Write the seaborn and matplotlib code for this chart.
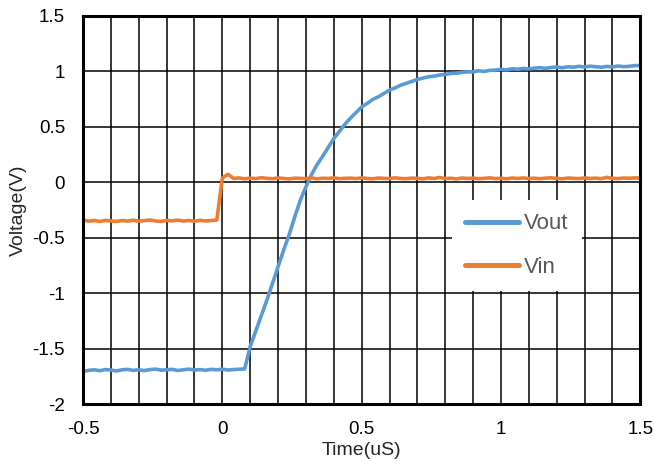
import numpy as np
import pandas as pd
import matplotlib
matplotlib.use("Agg")
import matplotlib.pyplot as plt
from matplotlib.ticker import MultipleLocator
import seaborn as sns

# ==========================================
# data (read off the scope capture, 0.02 uS step)
# ==========================================
time_us = np.round(np.arange(-0.5, 1.5001, 0.02), 2)

vout = [
    -1.705, -1.695, -1.690, -1.698, -1.688, -1.692, -1.700, -1.690, -1.686, -1.695,   # -0.50 .. -0.32
    -1.690, -1.697, -1.688, -1.684, -1.693, -1.690, -1.686, -1.696, -1.690, -1.684,   # -0.30 .. -0.12
    -1.692, -1.688, -1.694, -1.686, -1.690, -1.684, -1.692, -1.688, -1.685,           # -0.10 .. 0.06
    -1.682, -1.480, -1.340, -1.200, -1.060, -0.910, -0.760, -0.610, -0.470, -0.310,   # 0.08 .. 0.26
    -0.160, -0.040, 0.070, 0.160, 0.235, 0.315, 0.395, 0.460, 0.525, 0.580,           # 0.28 .. 0.46
    0.630, 0.680, 0.712, 0.748, 0.772, 0.802, 0.832, 0.852, 0.876, 0.893,             # 0.48 .. 0.66
    0.910, 0.928, 0.940, 0.952, 0.958, 0.968, 0.973, 0.982, 0.984, 0.992,             # 0.68 .. 0.86
    0.996, 0.996, 1.006, 1.000, 1.010, 1.012, 1.018, 1.014, 1.024, 1.020,             # 0.88 .. 1.06
    1.027, 1.022, 1.030, 1.034, 1.028, 1.036, 1.040, 1.033, 1.042, 1.038,             # 1.08 .. 1.26
    1.046, 1.040, 1.048, 1.042, 1.038, 1.045, 1.040, 1.049, 1.043, 1.046,             # 1.28 .. 1.46
    1.052, 1.054,                                                                     # 1.48 .. 1.50
]

vin = [
    -0.340, -0.350, -0.344, -0.352, -0.343, -0.348, -0.352, -0.344, -0.349, -0.341,   # -0.50 .. -0.32
    -0.350, -0.345, -0.340, -0.348, -0.352, -0.343, -0.347, -0.340, -0.349, -0.344,   # -0.30 .. -0.12
    -0.350, -0.342, -0.348, -0.344, -0.340, 0.040, 0.072, 0.036, 0.040, 0.032,       # -0.10 .. 0.08
    0.038, 0.034, 0.042, 0.036, 0.033, 0.040, 0.035, 0.031, 0.038, 0.036,             # 0.10 .. 0.28
    0.034, 0.040, 0.032, 0.037, 0.035, 0.041, 0.033, 0.036, 0.038, 0.034,             # 0.30 .. 0.48
    0.040, 0.035, 0.032, 0.039, 0.036, 0.034, 0.041, 0.035, 0.033, 0.038,             # 0.50 .. 0.68
    0.036, 0.032, 0.040, 0.035, 0.044, 0.034, 0.037, 0.031, 0.039, 0.035,             # 0.70 .. 0.88
    0.038, 0.033, 0.036, 0.041, 0.034, 0.037, 0.032, 0.039, 0.035, 0.040,             # 0.90 .. 1.08
    0.034, 0.037, 0.033, 0.038, 0.041, 0.035, 0.032, 0.039, 0.036, 0.034,             # 1.10 .. 1.28
    0.040, 0.035, 0.038, 0.033, 0.045, 0.036, 0.034, 0.039, 0.037, 0.040,             # 1.30 .. 1.48
    0.038,                                                                            # 1.50
]

series_names = ["Vout", "Vin"]
series_colors = ["#5B9BD5", "#ED7D31"]

# ==========================================
# plot
# ==========================================
sns.set_style("white")
plt.rcParams['font.family'] = ['Liberation Sans', 'DejaVu Sans']

df = pd.concat([
    pd.DataFrame({"time": time_us, "volt": vout, "sig": "Vout"}),
    pd.DataFrame({"time": time_us, "volt": vin, "sig": "Vin"}),
])

fig = plt.figure(figsize=(6.54, 4.70), dpi=100)
ax = fig.add_axes([0.127, 0.140, 0.852, 0.826])

sns.lineplot(data=df, x="time", y="volt", hue="sig", hue_order=series_names,
             palette=series_colors, linewidth=2.6, ax=ax, estimator=None,
             sort=False, legend=True)

ax.set_xlim(-0.5, 1.5)
ax.set_ylim(-2, 1.5)
ax.xaxis.set_major_locator(MultipleLocator(0.5))
ax.xaxis.set_minor_locator(MultipleLocator(0.1))
ax.yaxis.set_major_locator(MultipleLocator(0.5))
ax.xaxis.set_major_formatter(plt.FuncFormatter(lambda v, p: f"{v:g}"))
ax.yaxis.set_major_formatter(plt.FuncFormatter(lambda v, p: f"{v:g}"))

ax.grid(which="major", color="black", linewidth=1.1)
ax.grid(which="minor", axis="x", color="black", linewidth=1.1)
ax.set_axisbelow(True)
for s in ax.spines.values():
    s.set_color("black")
    s.set_linewidth(2.2)

ax.tick_params(axis="both", which="both", length=0, labelsize=13.5, colors="black")
ax.tick_params(axis="y", pad=13)
ax.tick_params(axis="x", pad=12)

ax.set_xlabel("Time(uS)", fontsize=14, labelpad=3)
ax.set_ylabel("Voltage(V)", fontsize=14, labelpad=4)

leg = ax.legend(loc="upper left", bbox_to_anchor=(0.662, 0.526), fontsize=16,
                frameon=True, facecolor="white", edgecolor="none", framealpha=1,
                fancybox=False, handlelength=2.4, handletextpad=0.25,
                labelspacing=1.0, borderpad=0.6, borderaxespad=0)
for txt in leg.get_texts():
    txt.set_color("#595959")
for h in leg.get_lines():
    h.set_linewidth(3.6)
    h.set_solid_capstyle("round")

fig.savefig("out.png", dpi=100)
